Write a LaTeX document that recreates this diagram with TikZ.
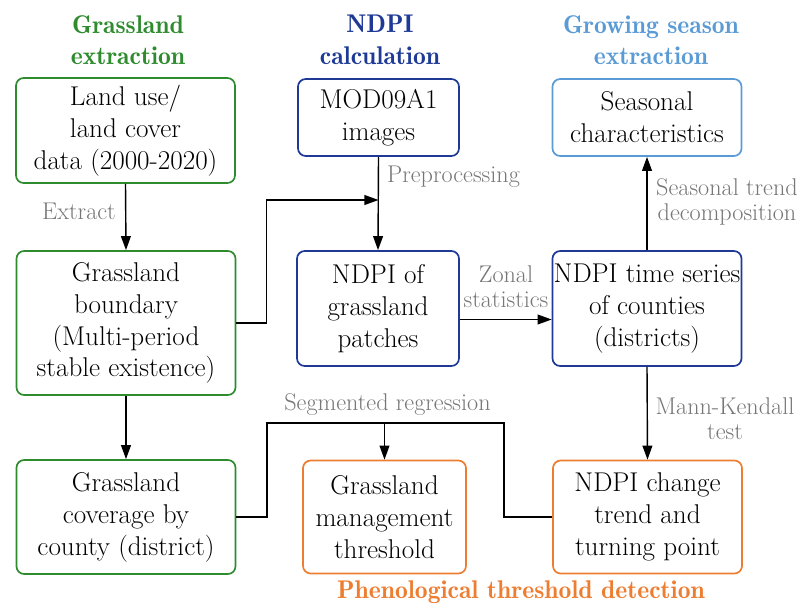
\documentclass[tikz,border=0pt]{standalone}
\usepackage{xcolor}
\usepackage{tikz}
\usetikzlibrary{arrows.meta, positioning}
\definecolor{grassgreen}{RGB}{46,139,46}
\definecolor{ndpiblue}{RGB}{30,58,150}
\definecolor{seasonblue}{RGB}{91,155,213}
\definecolor{phenoorange}{RGB}{237,125,49}
\definecolor{notegray}{RGB}{118,118,118}

\begin{document}
\begin{tikzpicture}[x=0.025cm, y=-0.025cm,
    box/.style={rectangle, rounded corners=5.5pt, draw, line width=1.2pt, fill=white,
                align=center, inner sep=0pt, font=\fontsize{19.3}{22.7}\selectfont},
    head/.style={align=center, font=\fontsize{18.2}{22.5}\fontseries{b}\selectfont},
    note/.style={align=center, text=notegray, font=\fontsize{17.2}{17.8}\selectfont},
    flow/.style={-{Triangle[length=10pt,width=7pt]}, line width=1pt}
]
\useasboundingbox (0,0) rectangle (801,606);

% stage titles
\node[head, text=grassgreen] (hgrass) at (128,40) {Grassland\\extraction};
\node[head, text=ndpiblue] (hndpi) at (380,40) {NDPI\\calculation};
\node[head, text=seasonblue] (hseason) at (651,40) {Growing season\\extraction};
\node[head, text=phenoorange] (hpheno) at (521,592) {Phenological threshold detection};

% boxes
\node[box, draw=grassgreen, minimum width=5.475cm, minimum height=2.625cm] (lulc) at (125.5,130.5)
    {Land use/\\land cover\\data (2000-2020)};
\node[box, draw=grassgreen, minimum width=5.475cm, minimum height=3.6cm] (bound) at (126,323)
    {Grassland\\boundary\\(Multi-period\\stable existence)};
\node[box, draw=grassgreen, minimum width=5.475cm, minimum height=2.85cm] (cov) at (126,517)
    {Grassland\\coverage by\\county (district)};
\node[box, draw=ndpiblue, minimum width=4.025cm, minimum height=1.925cm] (mod) at (378.5,117.5)
    {MOD09A1\\images};
\node[box, draw=ndpiblue, minimum width=4.05cm, minimum height=2.875cm] (patch) at (378,308.5)
    {NDPI of\\grassland\\patches};
\node[box, draw=ndpiblue, minimum width=4.725cm, minimum height=2.875cm] (tser) at (647,308.5)
    {NDPI time series\\of counties\\(districts)};
\node[box, draw=seasonblue, minimum width=4.725cm, minimum height=1.925cm] (seas) at (647,117.5)
    {Seasonal\\characteristics};
\node[box, draw=phenoorange, minimum width=4.075cm, minimum height=2.825cm] (thr) at (384.5,517)
    {Grassland\\management\\threshold};
\node[box, draw=phenoorange, minimum width=4.725cm, minimum height=2.825cm] (trend) at (647.5,517)
    {NDPI change\\trend and\\turning point};

% connectors
\coordinate (merge) at (378.5,200);
\coordinate (segL) at (267,423);
\coordinate (segR) at (504,423);
\draw[flow] (lulc.south) -- (bound.north);
\draw[flow] (bound.south) -- (cov.north);
\draw[flow] (mod.south) -- (patch.north);
\draw[flow] (bound.east) -- ++(30,0) |- (merge);
\draw[flow] ([yshift=-0.275cm]patch.east) -- ([yshift=-0.275cm]tser.west);
\draw[flow] (tser.north) -- (seas.south);
\draw[flow] (tser.south) -- (trend.north);
\draw[line width=1pt] (cov.east) -| (segL) -- (segR) |- (trend.west);
\draw[flow] (thr.north |- segL) -- (thr.north);

% connector labels
\node[note] (lextract) at (79,211) {Extract};
\node[note] (lprep) at (453.5,177) {Preprocessing};
\node[note] (lzonal) at (506,287) {Zonal\\statistics};
\node[note] (lstl) at (727,202) {Seasonal trend\\decomposition};
\node[note] (lmk) at (725,419) {Mann-Kendall\\test};
\node[note] (lseg) at (387.5,405) {Segmented regression};
\end{tikzpicture}
\end{document}
